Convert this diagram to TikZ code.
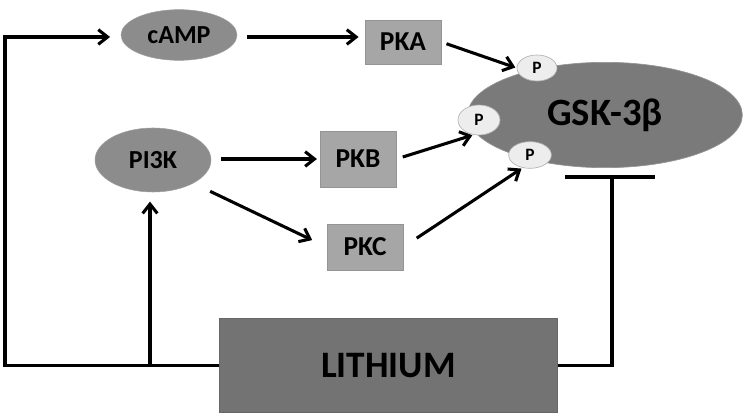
\documentclass[tikz,border=0pt]{standalone}
\usepackage{fontspec}
\setmainfont{Carlito}
\usetikzlibrary{arrows.meta,shapes.geometric}
\begin{document}
\begin{tikzpicture}[x=0.75pt,y=-0.75pt,
  line/.style={line width=2.3pt,black},
  arr/.style={line,-{Straight Barb[length=7pt,width=11pt,line width=2.3pt]}},
  ell/.style={ellipse,fill=black!45,draw=black!38,line width=0.4pt,inner sep=0pt,font=\bfseries\fontsize{19.5}{21}\selectfont},
  box/.style={rectangle,fill=black!35,draw=black!42,line width=0.6pt,inner sep=0pt,font=\bfseries\fontsize{20.5}{22}\selectfont},
  pnode/.style={ellipse,fill=black!7,draw=black!30,line width=0.5pt,inner sep=0pt,font=\bfseries\fontsize{13}{15}\selectfont}]
\useasboundingbox (0,0) rectangle (747,417);
% nodes
\node[ell,minimum width=87pt,minimum height=38pt] (camp) at (179,35) {cAMP};
\node[box,minimum width=57pt,minimum height=33pt] (pka) at (403,42) {PKA};
\node[ell,minimum width=87pt,minimum height=48pt] (pi3k) at (153,160) {PI3K};
\node[box,minimum width=57pt,minimum height=42pt] (pkb) at (358,159) {PKB};
\node[box,minimum width=57pt,minimum height=34.5pt] (pkc) at (365,247) {PKC};
\node[ellipse,fill=black!52,draw=black!42,line width=0.5pt,minimum width=206pt,minimum height=79pt,inner sep=0pt,font=\bfseries\fontsize{29}{32}\selectfont] (gsk) at (605,115) {GSK-3β};
\node[pnode,minimum width=30pt,minimum height=19.5pt] (p1) at (537,68) {P};
\node[pnode,minimum width=31.5pt,minimum height=22.5pt] (p2) at (479,120) {P};
\node[pnode,minimum width=32pt,minimum height=20pt] (p3) at (530,155) {P};
\node[rectangle,fill=black!55,draw=black!60,line width=0.6pt,minimum width=253pt,minimum height=71pt,inner sep=0pt,font=\bfseries\fontsize{28}{30}\selectfont] (lith) at (388.5,365.5) {LITHIUM};
% coordinates
\coordinate (bl) at (5,365.5);
\coordinate (tl) at (5,37);
\coordinate (br) at (150,365.5);
\coordinate (tc) at (612,177);
\coordinate (tbl) at (565,177);
\coordinate (tbr) at (655,177);
% connectors
\draw[arr,shorten >=8pt] (lith.west) -- (bl) -- (tl) -- (camp.west |- tl);
\draw[arr,shorten >=7pt] (br) -- (br |- pi3k.south);
\draw[line] (lith.east) -| (tc);
\draw[line] (tbl) -- (tbr);
\draw[arr,shorten <=7.5pt,shorten >=4.5pt] (camp.east |- tl) -- (pka.west |- tl);
\draw[arr,shorten <=4pt,shorten >=1pt] (pka.east) -- (p1.west);
\draw[arr,shorten <=7.5pt,shorten >=2pt] (pi3k.east |- pkb.west) -- (pkb.west);
\draw[arr,shorten <=14pt,shorten >=12pt] (pi3k.-30) -- (pkc.west);
\draw[arr,shorten <=5pt,shorten >=1pt] (pkb.east) -- (p2.-110);
\draw[arr,shorten <=12pt,shorten >=1pt] (pkc.east) -- (p3.-120);
\end{tikzpicture}
\end{document}
